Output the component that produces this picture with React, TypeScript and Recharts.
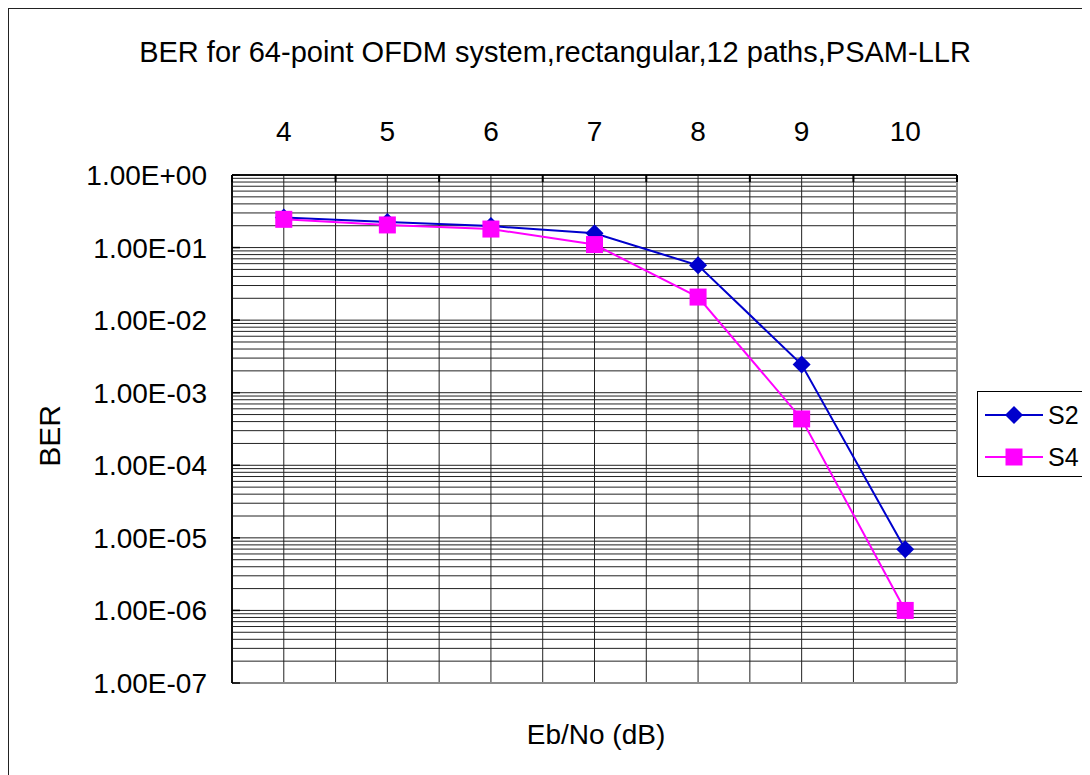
import React from 'react';
import {
  LineChart,
  Line,
  XAxis,
  YAxis,
  CartesianGrid,
  Legend,
  ReferenceLine
} from 'recharts';

// Eb/No values (dB) and measured BER for both curves
const ebno = [4, 5, 6, 7, 8, 9, 10];
const s2 = [0.259, 0.225, 0.198, 0.157, 0.057, 0.00244, 6.95e-6];
const s4 = [0.245, 0.205, 0.18, 0.11, 0.0208, 4.35e-4, 1.0e-6];

// axis ticks: category centres + boundaries on x, decades + minor steps on y
const xTicks = [3.5, 4, 4.5, 5, 5.5, 6, 6.5, 7, 7.5, 8, 8.5, 9, 9.5, 10, 10.5];
const decades = [1e-7, 1e-6, 1e-5, 1e-4, 1e-3, 1e-2, 1e-1, 1];
const minorSteps = [2, 3, 4, 5, 6, 7, 8, 9];
const yTicks = decades.flatMap(d => (d < 1 ? [d, ...minorSteps.map(k => k * d)] : [d]));

const data = ebno.map((x, i) => ({ ebno: x, S2: s2[i], S4: s4[i] }));

const FONT = '"Liberation Sans", Arial, sans-serif';
const BLUE = '#0000CC';
const MAGENTA = '#FF00FF';

const fmtExp = (v: number) => {
  const [m, e] = v.toExponential(2).split('e');
  return `${m}E${e[0]}${e.slice(1).padStart(2, '0')}`;
};

const XTick = ({ x, y, payload }: any) => {
  const v = payload.value;
  if (Number.isInteger(v)) {
    return (
      <text x={x} y={y - 34} textAnchor="middle" fontSize={28} fontFamily={FONT} fill="#000">
        {v}
      </text>
    );
  }
  return <line x1={x} x2={x} y1={y} y2={y + 7} stroke="#000" strokeWidth={2} />;
};

const YTick = ({ x, y, payload }: any) => {
  const v = payload.value;
  if (!decades.includes(v)) return <g />;
  return (
    <g>
      <line x1={x} x2={x + 8} y1={y} y2={y} stroke="#000" strokeWidth={1.5} />
      <text x={x - 25} y={y + 10} textAnchor="end" fontSize={28} fontFamily={FONT} fill="#000">
        {fmtExp(v)}
      </text>
    </g>
  );
};

const Diamond = ({ cx, cy, fill }: any) => (
  <polygon points={`${cx},${cy - 9} ${cx + 9},${cy} ${cx},${cy + 9} ${cx - 9},${cy}`} fill={fill} />
);

const Square = ({ cx, cy, fill }: any) => (
  <rect x={cx - 8.5} y={cy - 8.5} width={17} height={17} fill={fill} />
);

const renderLegend = ({ payload }: any) => (
  <div style={{ width: 111, height: 86, border: '1px solid #000', boxSizing: 'border-box', background: '#fff' }}>
    <svg width={109} height={84}>
      {(payload || []).map((entry: any, i: number) => {
        const cy = 23 + i * 42;
        return (
          <g key={entry.value}>
            <line x1={7} x2={65} y1={cy} y2={cy} stroke={entry.color} strokeWidth={2} />
            {entry.dataKey === 'S2' ? (
              <Diamond cx={36} cy={cy} fill={entry.color} />
            ) : (
              <Square cx={36} cy={cy} fill={entry.color} />
            )}
            <text x={70} y={cy + 9} fontSize={25} fontFamily={FONT} fill="#000">
              {entry.value}
            </text>
          </g>
        );
      })}
    </svg>
  </div>
);

export default function App() {
  return (
    <div
      style={{
        position: 'relative',
        width: 1081,
        height: 766,
        borderLeft: '1px solid #222',
        borderTop: '1px solid #222',
        background: '#fff',
        fontFamily: FONT
      }}
    >
      <div
        style={{
          position: 'absolute',
          left: 0,
          width: 1092,
          top: 29,
          textAlign: 'center',
          fontSize: 29,
          lineHeight: 1
        }}
      >
        BER for 64-point OFDM system,rectangular,12 paths,PSAM-LLR
      </div>

      <LineChart width={1081} height={766} data={data} margin={{ top: 106, right: 133, bottom: 92, left: 0 }}>
        <CartesianGrid stroke="#222" strokeWidth={1} fill="none" />
        <XAxis
          dataKey="ebno"
          type="number"
          orientation="top"
          domain={[3.5, 10.5]}
          ticks={xTicks}
          interval={0}
          height={60}
          tickSize={0}
          tickMargin={0}
          tickLine={false}
          tick={<XTick />}
          axisLine={{ stroke: '#111', strokeWidth: 2 }}
        />
        <YAxis
          type="number"
          scale="log"
          domain={[1e-7, 1]}
          allowDataOverflow
          ticks={yTicks}
          interval={0}
          width={223}
          tickSize={0}
          tickMargin={0}
          tickLine={false}
          tick={<YTick />}
          axisLine={{ stroke: '#111', strokeWidth: 2 }}
          label={({ viewBox }: any) => (
            <text
              x={viewBox.x + 40}
              y={viewBox.y + viewBox.height / 2 + 7}
              transform={`rotate(-90, ${viewBox.x + 40}, ${viewBox.y + viewBox.height / 2 + 7})`}
              textAnchor="middle"
              dominantBaseline="central"
              fontSize={30}
              fontFamily={FONT}
              fill="#000"
            >
              BER
            </text>
          )}
        />
        <ReferenceLine x={10.5} stroke="#8c8c8c" strokeWidth={2} />
        <ReferenceLine y={1e-7} stroke="#8c8c8c" strokeWidth={2} />
        <Legend
          layout="vertical"
          align="center"
          verticalAlign="middle"
          content={renderLegend}
          wrapperStyle={{ left: 968, top: 382, width: 111, height: 86 }}
        />
        <Line
          dataKey="S2"
          name="S2"
          stroke={BLUE}
          strokeWidth={2}
          fill={BLUE}
          isAnimationActive={false}
          dot={(p: any) => <Diamond key={`s2-${p.index}`} cx={p.cx} cy={p.cy} fill={BLUE} />}
        />
        <Line
          dataKey="S4"
          name="S4"
          stroke={MAGENTA}
          strokeWidth={2}
          fill={MAGENTA}
          isAnimationActive={false}
          dot={(p: any) => <Square key={`s4-${p.index}`} cx={p.cx} cy={p.cy} fill={MAGENTA} />}
        />
      </LineChart>

      <div
        style={{
          position: 'absolute',
          left: 387,
          width: 400,
          top: 712,
          textAlign: 'center',
          fontSize: 28,
          lineHeight: 1
        }}
      >
        Eb/No (dB)
      </div>
    </div>
  );
}
